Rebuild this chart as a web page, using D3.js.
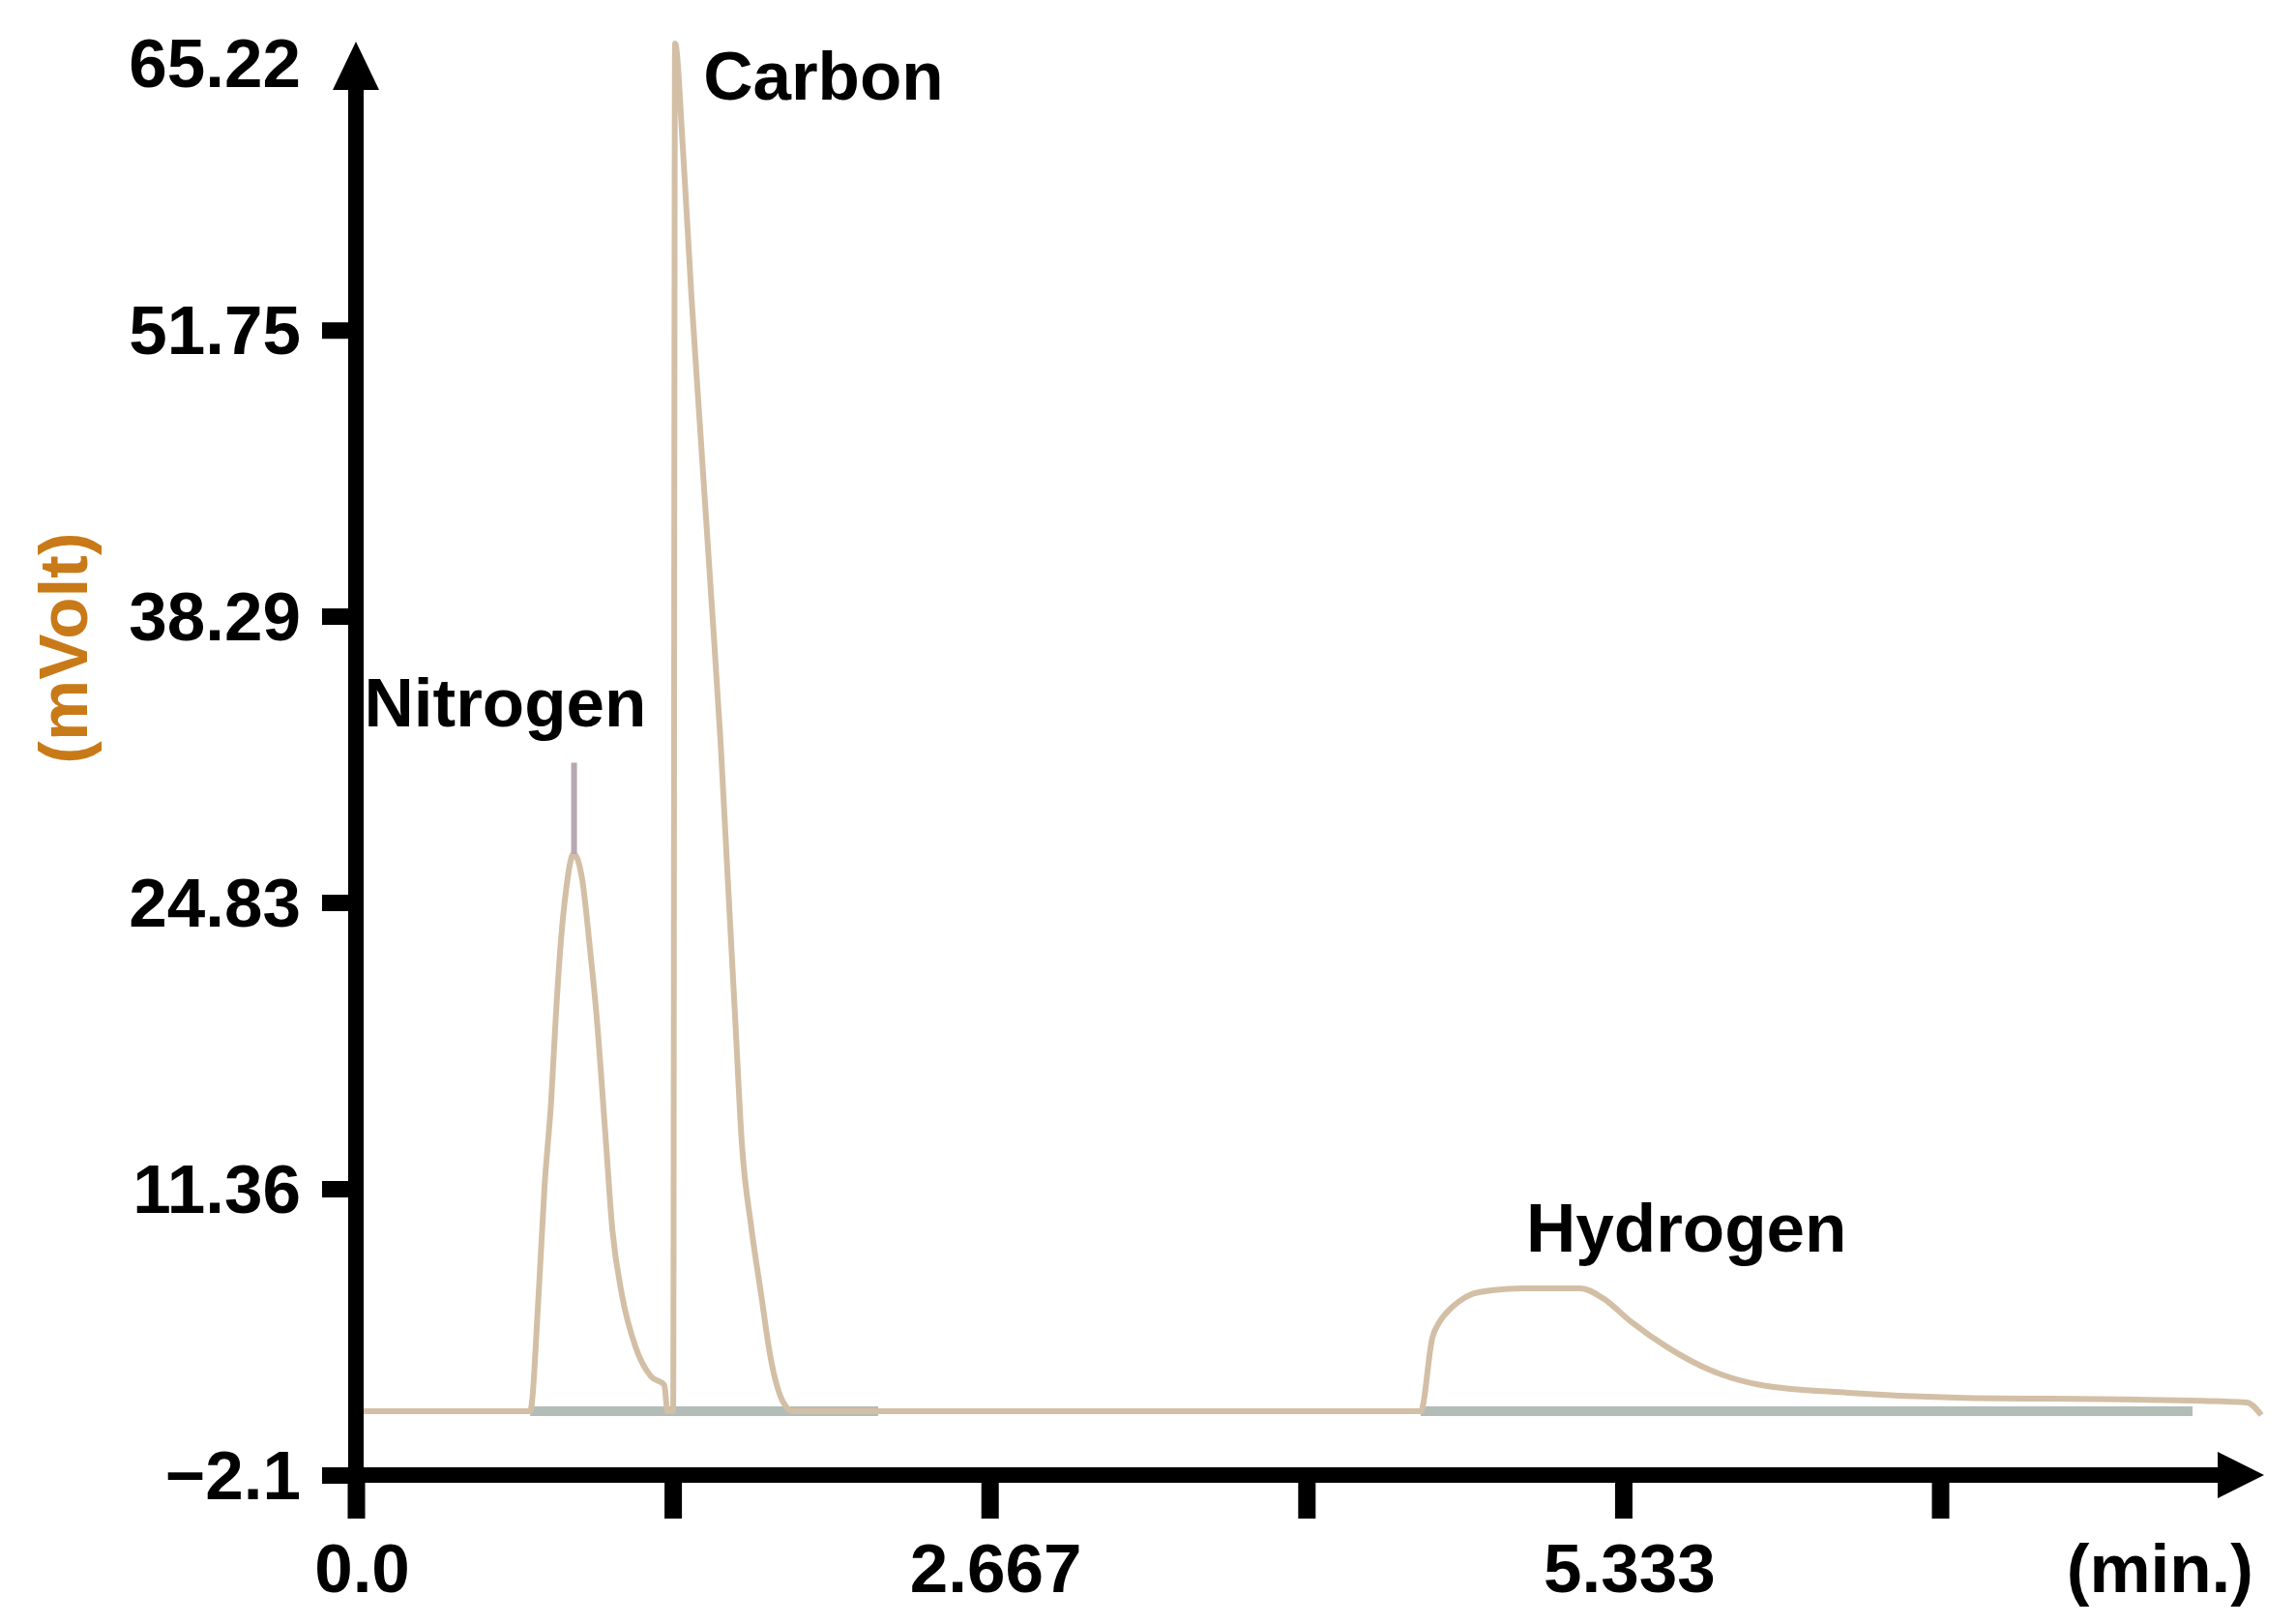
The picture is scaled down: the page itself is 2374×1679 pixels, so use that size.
<!DOCTYPE html>
<html lang="en">
  <head>
    <meta charset="utf-8">
    <title>Chromatogram</title>
    <script type="text/javascript" src="https://d3js.org/d3.v7.min.js"></script>
    <style type="text/css">
    body {
      margin: 0;
      background: #ffffff;
    }
    text {
      font-family: "Liberation Sans", Arial, sans-serif;
      font-weight: bold;
      font-size: 71px;
    }
    .axis text {
      fill: #000;
    }
    .ylabel {
      fill: #c97a18;
    }
    </style>
  </head>
  <body>
    <svg width="2374" height="1679" id="svg1"></svg>

    <script type="text/javascript">

    // axis ticks
    const yTicks = [-2.1, 11.36, 24.83, 38.29, 51.75, 65.22];
    const yTickLabels = ["\u22122.1", "11.36", "24.83", "38.29", "51.75", "65.22"];
    const xTicks = [0, 1.3333, 2.6667, 4.0, 5.3333, 6.6667];
    const xTickLabels = ["0.0", "", "2.667", "", "5.333", ""];
    const xMax = 8.03;

    // detector signal, minutes
    const traceTime = [
      0.02, 0.733, 0.769, 0.794, 0.822, 0.842, 0.863, 0.883, 0.916, 0.952, 0.985, 1.012, 1.050, 1.079, 1.119, 1.176, 1.241, 1.298, 1.311,
      1.335, 1.343, 1.376, 1.412, 1.453, 1.494, 1.535, 1.565, 1.595, 1.624, 1.665, 1.705, 1.746, 1.799, 1.84,
      4.481, 4.530, 4.560, 4.591, 4.640, 4.697, 4.790, 4.908, 5.153, 5.246, 5.368, 5.519, 5.702, 5.914, 6.280, 6.736, 7.497, 7.957, 8.018
    ];
    // detector signal, mVolt
    const traceValue = [
      0.9, 0.9, 6.41, 11.5, 15.55, 19.6, 23.06, 25.29, 27.11, 25.93, 22.65, 19.6, 13.9, 9.46, 6.41, 3.95, 2.54, 2.13, 0.9,
      0.9, 65.22, 60.29, 53.33, 46.37, 39.41, 32.3, 25.9, 19.6, 13.51, 9.46, 6.41, 3.36, 1.31, 0.9,
      0.9, 4.36, 5.1, 5.55, 6.05, 6.41, 6.6, 6.68, 6.68, 6.23, 5.09, 3.91, 2.82, 2.13, 1.77, 1.54, 1.45, 1.31, 0.72
    ];

    // small spike on top of the nitrogen peak
    const spikeTime = [0.918, 0.918];
    const spikeValue = [27.1, 31.4];

    // integration baselines (start, end) in minutes
    const baseStart = [0.733, 4.481];
    const baseEnd = [2.198, 7.729];
    const baseValue = 0.9;

    // peak names and where their labels sit (minutes, mVolt)
    const peakNames = ["Nitrogen", "Carbon", "Hydrogen"];
    const peakLabelTime = [0.035, 1.462, 4.925];
    const peakLabelValue = [33.1, 62.6, 8.4];

    const trace = traceTime.map((t, i) => ({t: t, v: traceValue[i]}));
    const spike = spikeTime.map((t, i) => ({t: t, v: spikeValue[i]}));

    const xScale = d3.scaleLinear()
        .domain([0, xMax])
        .range([368, 2341]);

    const yScale = d3.scaleLinear()
        .domain([-2.1, 65.22])
        .range([1525, 45]);

    const svg = d3.select("#svg1");

    const line = d3.line()
        .x(d => xScale(d.t))
        .y(d => yScale(d.v))
        .curve(d3.curveMonotoneX);

    // integration baselines
    svg.selectAll(".base")
        .data(baseStart)
        .enter()
        .append("line")
        .attr("class", "base")
        .attr("x1", d => xScale(d))
        .attr("x2", (d, i) => xScale(baseEnd[i]))
        .attr("y1", yScale(baseValue))
        .attr("y2", yScale(baseValue))
        .attr("stroke", "#b3bdb8")
        .attr("stroke-width", 10);

    // signal trace
    svg.append("path")
        .datum(trace)
        .attr("d", line)
        .attr("fill", "none")
        .attr("stroke", "#d3bfa6")
        .attr("stroke-width", 6)
        .attr("stroke-linejoin", "round");

    svg.append("path")
        .datum(spike)
        .attr("d", d3.line().x(d => xScale(d.t)).y(d => yScale(d.v)))
        .attr("fill", "none")
        .attr("stroke", "#b8a7b1")
        .attr("stroke-width", 6);

    // peak labels
    svg.selectAll(".peak")
        .data(peakNames)
        .enter()
        .append("text")
        .attr("class", "peak")
        .attr("x", (d, i) => xScale(peakLabelTime[i]))
        .attr("y", (d, i) => yScale(peakLabelValue[i]))
        .attr("fill", "#000")
        .text(d => d);

    // axes
    const leftAxis = d3.axisLeft(yScale)
        .tickValues(yTicks)
        .tickFormat((d, i) => yTickLabels[i])
        .tickSize(35)
        .tickSizeOuter(0)
        .tickPadding(22);

    const bottomAxis = d3.axisBottom(xScale)
        .tickValues(xTicks)
        .tickFormat((d, i) => xTickLabels[i])
        .tickSize(45)
        .tickSizeOuter(0)
        .tickPadding(26);

    const gy = svg.append("g")
        .attr("class", "axis")
        .attr("transform", "translate(" + xScale(0) + ",0)")
        .call(leftAxis);
    gy.select(".domain").remove();
    gy.selectAll(".tick line")
        .attr("stroke", "#000")
        .attr("stroke-width", 17)
        .attr("display", d => d === 65.22 ? "none" : null);
    gy.selectAll(".tick text")
        .attr("dy", d => d === 65.22 ? "0.62em" : "0.34em");

    const gx = svg.append("g")
        .attr("class", "axis")
        .attr("transform", "translate(0," + yScale(-2.1) + ")")
        .call(bottomAxis);
    gx.select(".domain").remove();
    gx.selectAll(".tick line")
        .attr("stroke", "#000")
        .attr("stroke-width", 18);
    gx.selectAll(".tick text")
        .attr("dx", 6);

    // axis lines with arrow heads
    const x0 = xScale(0), y0 = yScale(-2.1);
    const xEnd = xScale(xMax), yEnd = yScale(65.22);

    svg.append("line")
        .attr("x1", x0).attr("y1", y0 + 8)
        .attr("x2", x0).attr("y2", yEnd + 30)
        .attr("stroke", "#000")
        .attr("stroke-width", 16);

    svg.append("line")
        .attr("x1", x0 - 8).attr("y1", y0)
        .attr("x2", xEnd - 30).attr("y2", y0)
        .attr("stroke", "#000")
        .attr("stroke-width", 16);

    svg.append("path")
        .attr("d", "M" + x0 + "," + (yEnd - 2) + "L" + (x0 + 24) + "," + (yEnd + 48) + "L" + (x0 - 24) + "," + (yEnd + 48) + "Z")
        .attr("fill", "#000");

    svg.append("path")
        .attr("d", "M" + xEnd + "," + y0 + "L" + (xEnd - 48) + "," + (y0 - 24) + "L" + (xEnd - 48) + "," + (y0 + 24) + "Z")
        .attr("fill", "#000");

    // axis titles
    svg.append("text")
        .attr("class", "ylabel")
        .attr("text-anchor", "middle")
        .attr("transform", "translate(90,670) rotate(-90)")
        .text("(mVolt)");

    svg.append("text")
        .attr("text-anchor", "end")
        .attr("x", 2330)
        .attr("y", 1646)
        .attr("fill", "#000")
        .text("(min.)");

    </script>
  </body>
</html>
